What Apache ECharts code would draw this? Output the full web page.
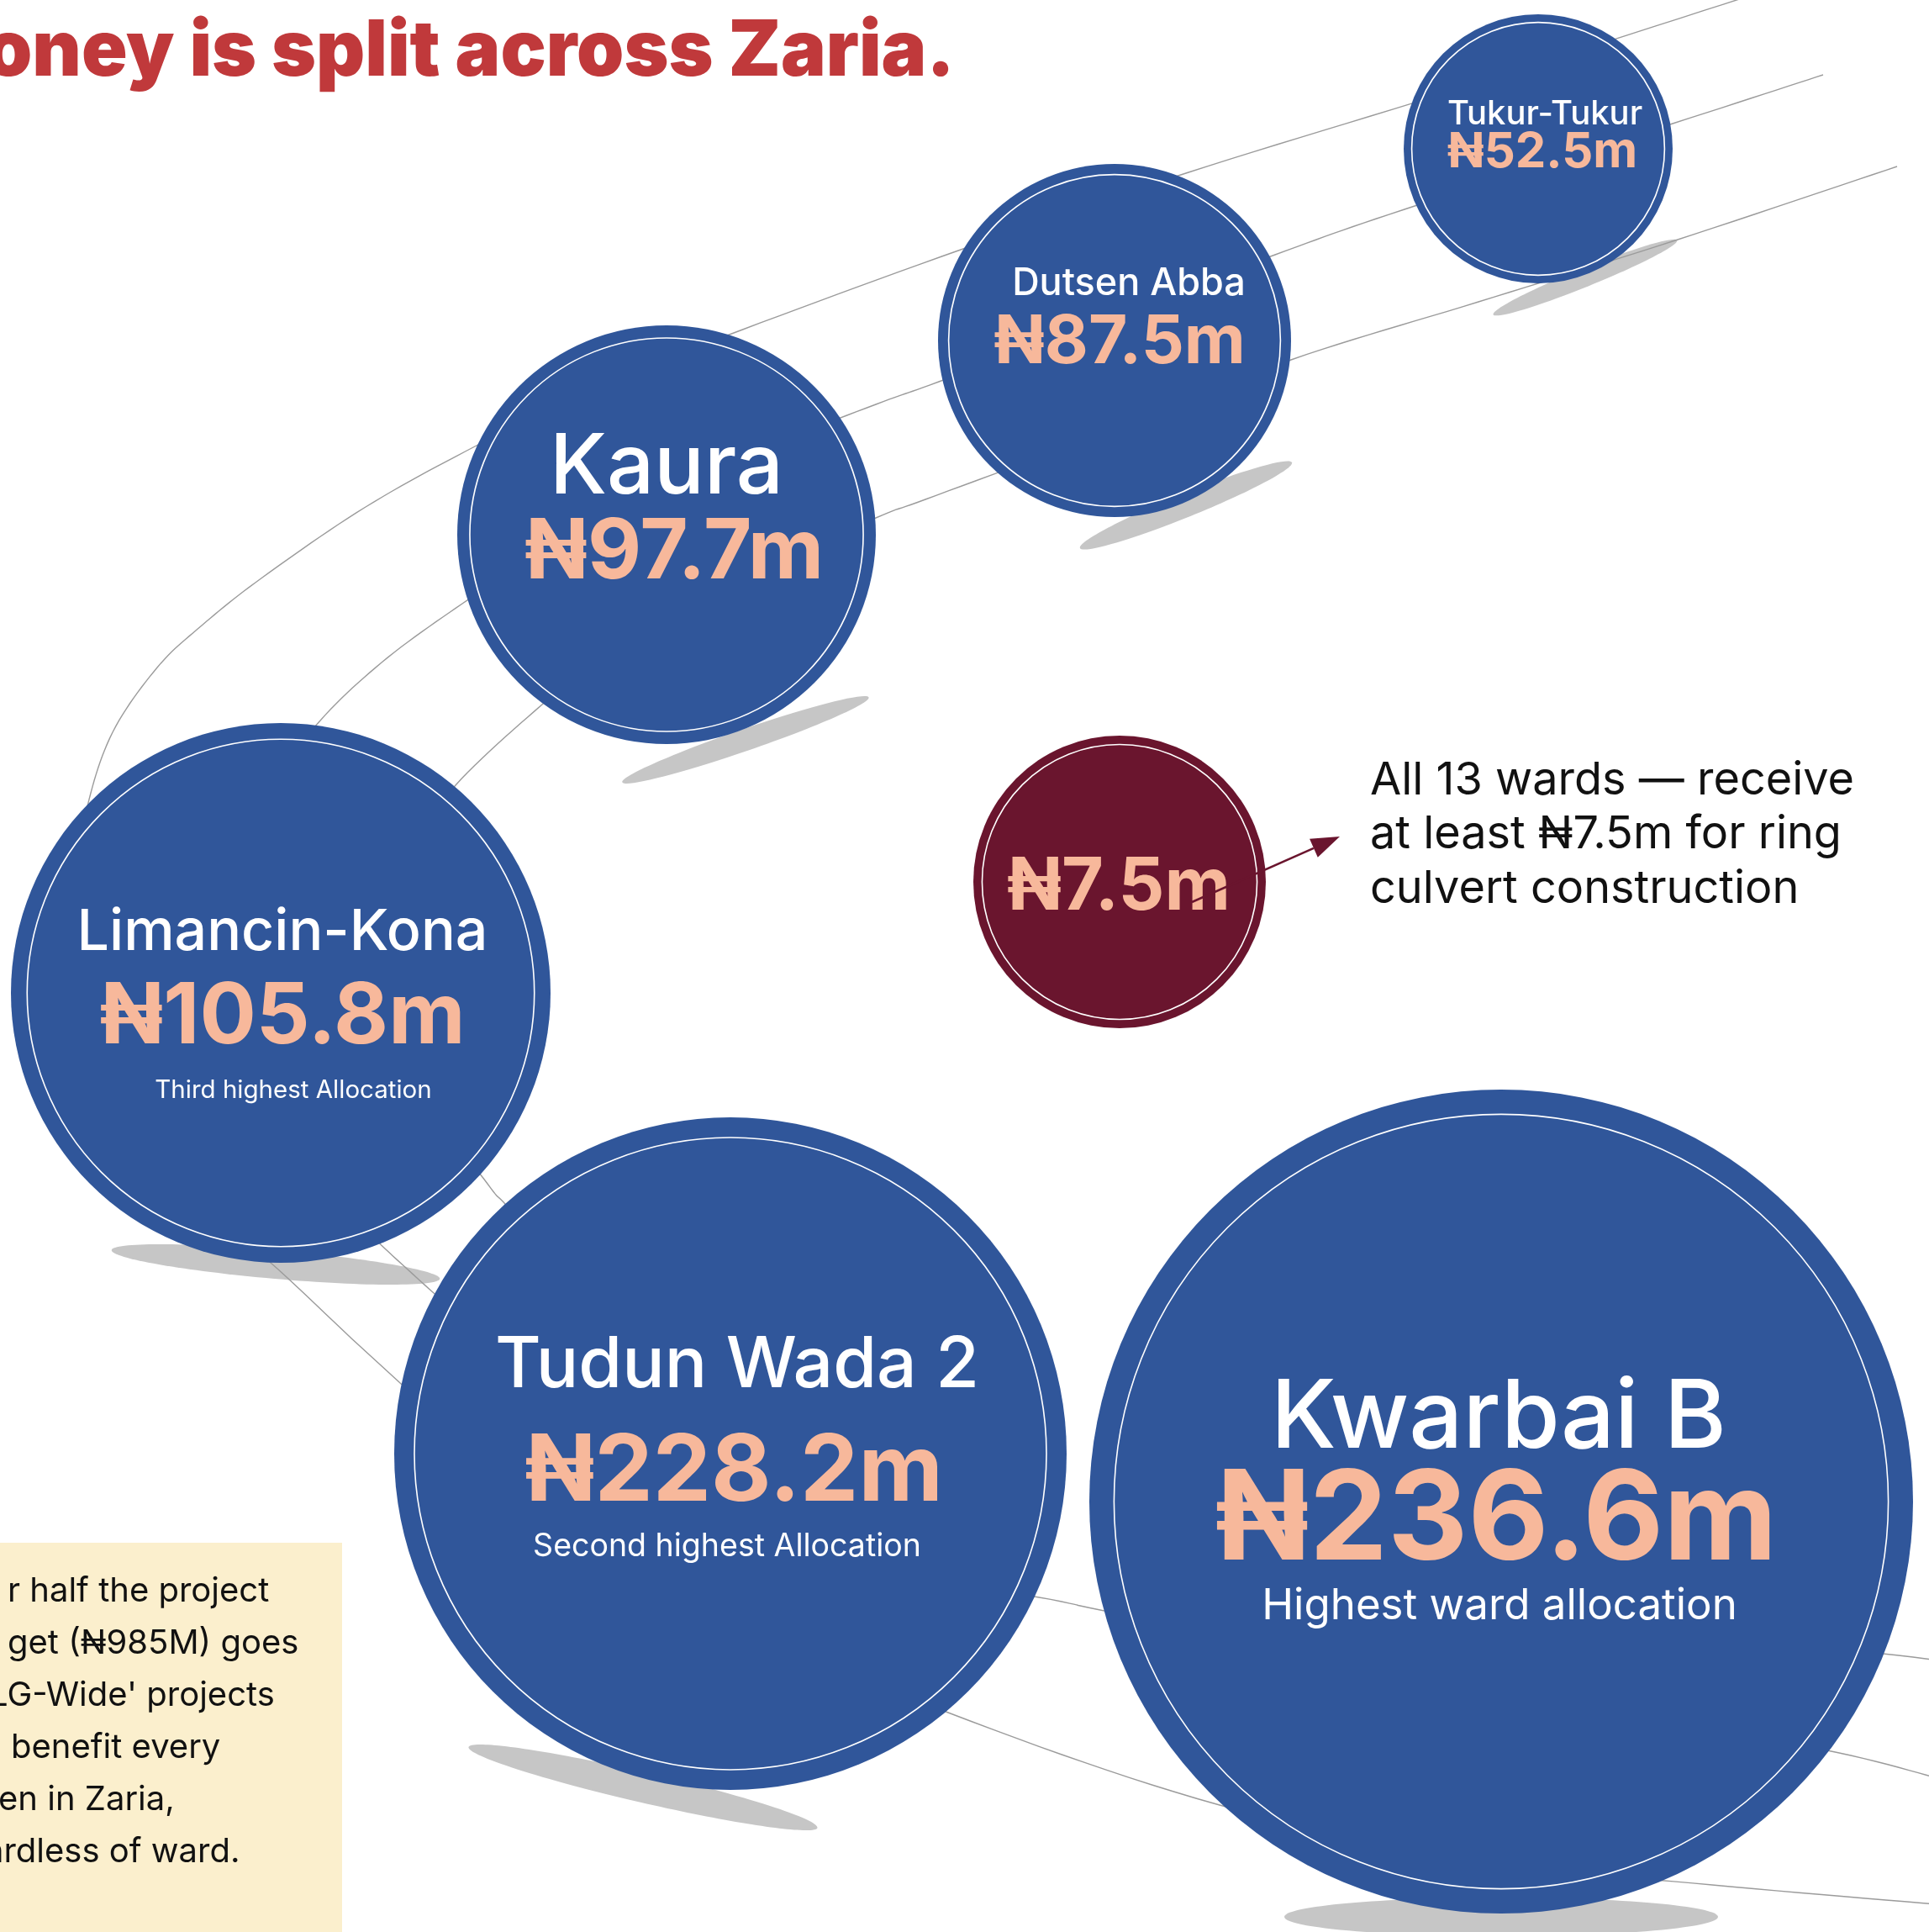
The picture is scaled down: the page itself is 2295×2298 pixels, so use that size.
<!DOCTYPE html>
<html>
<head>
<meta charset="utf-8" />
<title>How the money is split across Zaria</title>
<script src="https://cdn.jsdelivr.net/npm/echarts@6/dist/echarts.min.js"></script>
<style>
  html, body { margin: 0; padding: 0; background: #ffffff; }
  #chart { width: 2295px; height: 2298px; }
</style>
</head>
<body>
<div id="chart"></div>
<script>
// ---- data ----
const wards = ['Tukur-Tukur', 'Dutsen Abba', 'Kaura', 'Limancin-Kona', 'Tudun Wada 2', 'Kwarbai B'];
const allocations = [52.5, 87.5, 97.7, 105.8, 228.2, 236.6]; // N millions
const notes = ['', '', '', 'Third highest Allocation', 'Second highest Allocation', 'Highest ward allocation'];
const minAllocation = 7.5;   // every ward, ring culverts
const wardCount = 13;
const lgWideTotal = 985;     // N millions, LG-wide projects

// ---- layout (pixels on a 2295 x 2298 page) ----
const W = 2295, H = 2298;
const BLUE = '#30569a', SALMON = '#f7b89b', MAROON = '#6a152e', SHADOW = '#c6c6c6';
const FONT = 'Inter, "Noto Sans", "DejaVu Sans", sans-serif';

// name / value / note: [dx, dy of baseline, font size]; shadow: [cx, cy, rx, ry, tilt deg]
const bubbleLayout = [
  { x: 1830, y: 177, r: 160, name: [8, -27, 40], value: [5, 25, 58], shadow: [1886, 330, 118, 11, 22] },
  { x: 1326, y: 405, r: 210, name: [17, -51, 45], value: [6, 32, 80], shadow: [1411, 601, 136, 14, 22] },
  { x: 793, y: 636, r: 249, name: [0, -43, 99], value: [9, 58, 99], shadow: [887, 880, 155, 13, 19] },
  { x: 334, y: 1181, r: 321, name: [2, -47, 68], value: [2, 66, 100], note: [15, 127, 29.5], shadow: [328, 1504, 196, 17, -5] },
  { x: 869, y: 1729, r: 400, name: [8, -74, 84], value: [4, 63, 110], note: [-4, 124, 37.5], shadow: [765, 2126, 213, 18, -13] },
  { x: 1786, y: 1786, r: 490, name: [-3, -57, 113], value: [-6, 78, 148], note: [-2, 143, 51], shadow: [1786, 2280, 258, 23, 0] }
];
const minLayout = [{ x: 1332, y: 1049, r: 174, value: [-1, 38, 86] }];

// decorative orbit curves behind the bubbles (control points, smoothed below)
const orbits = [
  [[2088, -7], [1744, 103], [1414, 205], [1143, 297], [865, 399], [700, 465], [565, 531], [435, 603], [312, 687],
   [240, 744], [187, 794], [134, 871], [104, 959], [88, 1060], [100, 1180], [150, 1320], [230, 1430], [322, 1502],
   [440, 1612], [586, 1740], [806, 1900], [1128, 2037], [1451, 2147], [1759, 2213], [2037, 2242], [2316, 2266]],
  [[2169, 89], [1990, 147], [1671, 249], [1517, 303], [1319, 378], [1117, 454], [1042, 481], [879, 545], [733, 616],
   [630, 667], [550, 718], [454, 788], [374, 865], [300, 967], [264, 1084], [271, 1216], [337, 1348], [425, 1451],
   [484, 1509], [586, 1597], [762, 1729], [1026, 1854], [1263, 1905], [1309, 1915], [1612, 1978], [1905, 2037],
   [2169, 2081], [2316, 2118]],
  [[2257, 198], [1993, 286], [1759, 359], [1536, 428], [1319, 513], [1101, 594], [1042, 616], [879, 689], [733, 769],
   [645, 838], [542, 934], [491, 1011], [469, 1143], [498, 1290], [580, 1408], [607, 1439], [703, 1553], [879, 1685],
   [1000, 1740]],
  [[1560, 1810], [1905, 1924], [2276, 1971], [2316, 1978]]
];

function catmullRom(pts, steps) {
  const out = [];
  for (let i = 0; i < pts.length - 1; i++) {
    const p0 = pts[Math.max(i - 1, 0)], p1 = pts[i], p2 = pts[i + 1], p3 = pts[Math.min(i + 2, pts.length - 1)];
    for (let s = 0; s < steps; s++) {
      const t = s / steps, t2 = t * t, t3 = t2 * t;
      out.push([0, 1].map(function (k) {
        return 0.5 * (2 * p1[k] + (-p0[k] + p2[k]) * t + (2 * p0[k] - 5 * p1[k] + 4 * p2[k] - p3[k]) * t2 +
          (-p0[k] + 3 * p1[k] - 3 * p2[k] + p3[k]) * t3);
      }));
    }
  }
  out.push(pts[pts.length - 1]);
  return out;
}

function money(v) { return '\u20A6' + v + 'm'; }

function textEl(c, spec, text, color, weight) {
  const size = spec[2];
  return {
    type: 'text',
    style: {
      text: text,
      x: c[0] + spec[0],
      y: c[1] + spec[1] - size * 0.36,
      fill: color,
      fontSize: size,
      fontWeight: weight,
      fontFamily: FONT,
      align: 'center',
      verticalAlign: 'middle'
    }
  };
}

function bubbleRenderer(layout, fill, names, extra) {
  return function (params, api) {
    const i = params.dataIndex;
    const L = layout[i];
    const c = api.coord([api.value(0), api.value(1)]);
    const r = api.size([L.r, 0])[0];
    const kids = [
      { type: 'circle', shape: { cx: c[0], cy: c[1], r: r }, style: { fill: fill } },
      { type: 'circle', shape: { cx: c[0], cy: c[1], r: r * 0.94 }, style: { fill: null, stroke: '#ffffff', lineWidth: 1.6 } }
    ];
    if (names && L.name) kids.push(textEl(c, L.name, names[i], '#ffffff', 500));
    kids.push(textEl(c, L.value, money(api.value(2)), SALMON, 700));
    if (extra && L.note && extra[i]) kids.push(textEl(c, L.note, extra[i], '#ffffff', 400));
    return { type: 'group', children: kids };
  };
}

function shadowRenderer(params, api) {
  const s = bubbleLayout[params.dataIndex].shadow;
  const c = api.coord([s[0], s[1]]);
  return {
    type: 'ellipse',
    x: c[0], y: c[1],
    rotation: s[4] * Math.PI / 180,
    shape: { cx: 0, cy: 0, rx: s[2], ry: s[3] },
    style: { fill: SHADOW }
  };
}

function arrow(x1, y1, x2, y2, color) {
  const len = Math.hypot(x2 - x1, y2 - y1);
  const ux = (x2 - x1) / len, uy = (y2 - y1) / len;
  const hl = 34, hw = 12;
  const bx = x2 - ux * hl, by = y2 - uy * hl;
  return [
    { type: 'line', z: 10, shape: { x1: x1, y1: y1, x2: bx, y2: by }, style: { stroke: color, lineWidth: 2.5 } },
    { type: 'polygon', z: 10, shape: { points: [[x2, y2], [bx - uy * hw, by + ux * hw], [bx + uy * hw, by - ux * hw]] }, style: { fill: color } }
  ];
}

const bodyFont = 40;
const boxLines = [
  { x: 9, base: 1907, text: 'r half the project' },
  { x: 9, base: 1969, text: 'get (\u20A6' + lgWideTotal + 'M) goes' },
  { x: -13, base: 2031, text: "LG-Wide' projects" },
  { x: 13, base: 2093, text: 'benefit every' },
  { x: -2, base: 2155, text: 'en in Zaria,' },
  { x: -18, base: 2217, text: 'ardless of ward.' }
];

const graphics = orbits.map(function (pts) {
  return {
    type: 'polyline', z: 2, silent: true,
    shape: { points: catmullRom(pts, 12) },
    style: { stroke: '#9b9b9b', lineWidth: 1.4, fill: null }
  };
});

// title: heavy, condensed to the measured width of the original
const titleText = 'oney is split across Zaria.';
const titleFont = '900 92px Inter, "DejaVu Sans", sans-serif';
const measureCtx = document.createElement('canvas').getContext('2d');
measureCtx.font = titleFont;
const titleScale = Math.min(1, 1154 / measureCtx.measureText(titleText).width);
graphics.push({
  type: 'text', z: 10,
  x: 1136, y: 95 - 92 * 0.36, scaleX: titleScale,
  style: {
    text: titleText, x: 0, y: 0,
    fill: '#c0393b', font: titleFont,
    align: 'right', verticalAlign: 'middle'
  }
});

graphics.push({ type: 'rect', z: 9, shape: { x: 0, y: 1835, width: 407, height: H - 1835 }, style: { fill: '#fbefcd' } });
boxLines.forEach(function (l) {
  graphics.push({
    type: 'text', z: 10,
    style: {
      text: l.text, x: l.x, y: l.base - bodyFont * 0.36,
      fill: '#111111', fontSize: bodyFont, fontFamily: FONT,
      align: 'left', verticalAlign: 'middle'
    }
  });
});

const noteLines = [
  'All ' + wardCount + ' wards \u2014 receive',
  'at least \u20A6' + minAllocation + 'm for ring',
  'culvert construction'
];
noteLines.forEach(function (t, k) {
  graphics.push({
    type: 'text', z: 10,
    style: {
      text: t, x: 1630, y: 948 + k * 64.5 - 54 * 0.36,
      fill: '#111111', fontSize: 54, fontFamily: FONT,
      align: 'left', verticalAlign: 'middle'
    }
  });
});
arrow(1418, 1073, 1594, 995, MAROON).forEach(function (g) { graphics.push(g); });

const chart = echarts.init(document.getElementById('chart'), null, { renderer: 'canvas' });
chart.setOption({
  animation: false,
  backgroundColor: '#ffffff',
  grid: { left: 0, right: 0, top: 0, bottom: 0 },
  xAxis: { type: 'value', min: 0, max: W, show: false },
  yAxis: { type: 'value', min: 0, max: H, inverse: true, show: false },
  graphic: graphics,
  series: [
    {
      type: 'custom', name: 'shadows', z: 1, silent: true, clip: false,
      renderItem: shadowRenderer,
      encode: { x: 0, y: 1 },
      data: bubbleLayout.map(function (L) { return [L.shadow[0], L.shadow[1]]; })
    },
    {
      type: 'custom', name: 'Ward allocation', z: 3, clip: false,
      renderItem: bubbleRenderer(bubbleLayout, BLUE, wards, notes),
      encode: { x: 0, y: 1 },
      data: allocations.map(function (v, i) {
        return { name: wards[i], value: [bubbleLayout[i].x, bubbleLayout[i].y, v] };
      })
    },
    {
      type: 'custom', name: 'Minimum per ward', z: 3, clip: false,
      renderItem: bubbleRenderer(minLayout, MAROON, null, null),
      encode: { x: 0, y: 1 },
      data: [{ name: 'All wards', value: [minLayout[0].x, minLayout[0].y, minAllocation] }]
    }
  ]
});
</script>
</body>
</html>
